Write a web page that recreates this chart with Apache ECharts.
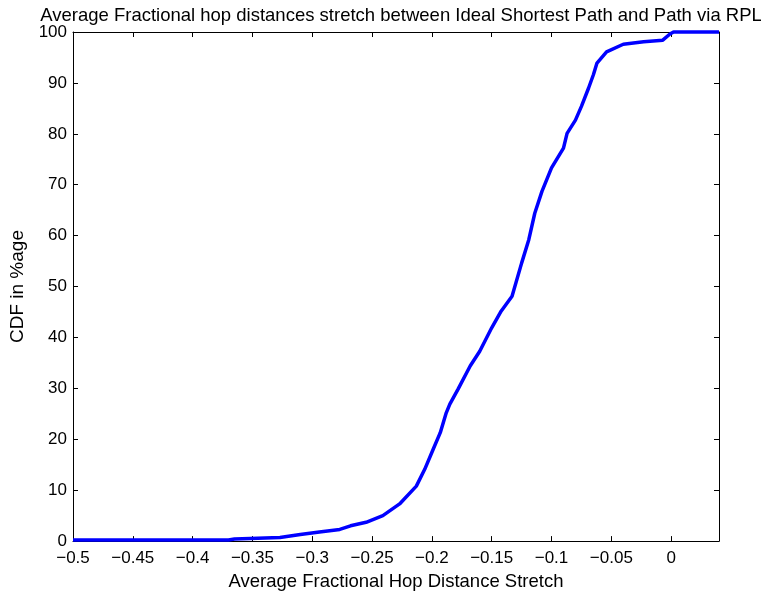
<!DOCTYPE html>
<html>
<head>
<meta charset="utf-8">
<script src="https://cdn.jsdelivr.net/npm/echarts@6/dist/echarts.min.js"></script>
<style>
  html, body { margin: 0; padding: 0; background: #fff; }
  #chart { width: 761px; height: 596px; }
</style>
</head>
<body>
<div id="chart"></div>
<script>
// Stretch values (x) and cumulative percentage (y) of the CDF curve
const stretch = [-0.5, -0.37, -0.365, -0.352, -0.327, -0.31, -0.294, -0.277, -0.268, -0.255,
  -0.241, -0.227, -0.213, -0.206, -0.199, -0.193, -0.188, -0.185, -0.178, -0.168,
  -0.16, -0.15, -0.142, -0.133, -0.125, -0.119, -0.114, -0.108, -0.1, -0.09,
  -0.087, -0.08, -0.075, -0.069, -0.065, -0.062, -0.054, -0.04, -0.023, -0.007,
  -0.001, 0.002, 0.04];
const cdfPercent = [0.2, 0.2, 0.4, 0.5, 0.7, 1.3, 1.8, 2.3, 3.0, 3.7,
  5.0, 7.3, 10.8, 14.1, 18.0, 21.3, 25.2, 26.9, 29.9, 34.4,
  37.3, 41.9, 45.2, 48.1, 54.6, 59.2, 64.4, 68.7, 73.3, 77.2,
  80.1, 82.7, 85.4, 89.0, 91.6, 93.9, 96.1, 97.6, 98.1, 98.4,
  99.6, 100, 100];

const titleText = 'Average Fractional hop distances stretch between Ideal Shortest Path and Path via RPL';
const xName = 'Average Fractional Hop Distance Stretch';
const yName = 'CDF in %age';

const FONT = 'Liberation Sans, Arial, sans-serif';
const points = stretch.map((x, i) => [x, cdfPercent[i]]);

function fmtX(v) {
  const r = Math.round(v * 100) / 100;
  if (Math.abs(r) < 1e-9) return '0';
  const s = String(Math.abs(r));
  return (r < 0 ? '\u2212' : '') + s;
}

const axisLine = { show: true, onZero: false, lineStyle: { color: '#000', width: 1 } };
const tick = { show: true, inside: true, length: 5, lineStyle: { color: '#000', width: 1 } };

const chart = echarts.init(document.getElementById('chart'), null, { renderer: 'canvas' });
chart.setOption({
  backgroundColor: '#fff',
  animation: false,
  title: {
    text: titleText,
    left: 396, textAlign: 'center',
    top: 1,
    textStyle: { fontFamily: FONT, fontSize: 18.5, fontWeight: 'normal', color: '#000' }
  },
  grid: { left: 73, right: 42, top: 32, bottom: 54 },
  xAxis: [{
    type: 'value', min: -0.5, max: 0.04, interval: 0.05,
    position: 'bottom',
    axisLine, axisTick: tick, splitLine: { show: false },
    axisLabel: {
      margin: 9, color: '#000', fontFamily: FONT, fontSize: 17,
      formatter: fmtX, showMaxLabel: false
    },
    name: xName, nameLocation: 'middle', nameGap: 29,
    nameTextStyle: { fontFamily: FONT, fontSize: 18.5, color: '#000' }
  }, {
    type: 'value', min: -0.5, max: 0.04, interval: 0.05,
    position: 'top',
    axisLine, axisTick: tick, splitLine: { show: false },
    axisLabel: { show: false }
  }],
  yAxis: [{
    type: 'value', min: 0, max: 100, interval: 10,
    position: 'left',
    axisLine, axisTick: tick, splitLine: { show: false },
    axisLabel: { margin: 6, color: '#000', fontFamily: FONT, fontSize: 17 },
    name: yName, nameLocation: 'middle', nameGap: 46, nameRotate: 90,
    nameTextStyle: { fontFamily: FONT, fontSize: 19, color: '#000' }
  }, {
    type: 'value', min: 0, max: 100, interval: 10,
    position: 'right',
    axisLine, axisTick: tick, splitLine: { show: false },
    axisLabel: { show: false }
  }],
  series: [{
    type: 'line',
    data: points,
    xAxisIndex: 0, yAxisIndex: 0,
    showSymbol: false,
    lineStyle: { color: '#0000ff', width: 3.5 },
    clip: false
  }]
});
</script>
</body>
</html>
